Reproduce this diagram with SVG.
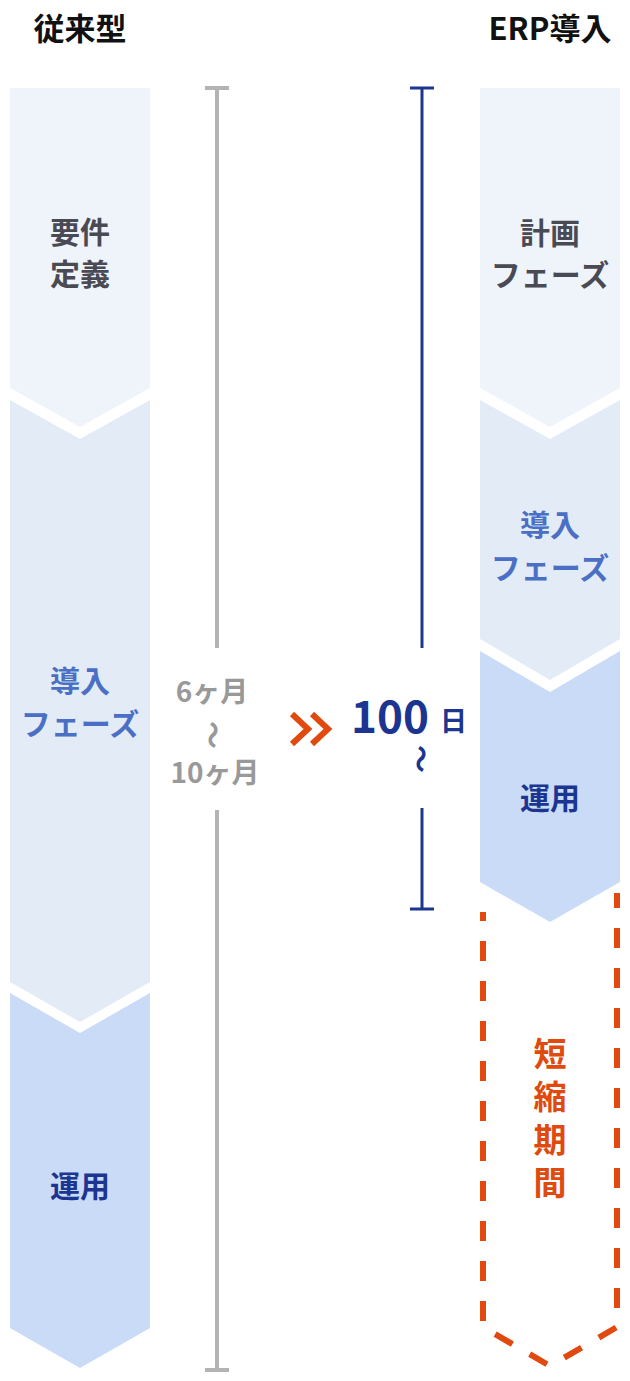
<svg xmlns="http://www.w3.org/2000/svg" width="630" height="1381" viewBox="0 0 630 1381">
<style>
text{font-family:"Noto Sans CJK JP","Noto Sans",sans-serif;font-weight:700;text-anchor:middle;dominant-baseline:central}
.h{font-size:31px;fill:#111}
.t{font-size:30px}
.gray{fill:#4a4a55}
.blue{fill:#4a6fc4}
.navy{fill:#1c3590}
.org{fill:#e04a0e;font-size:33px;letter-spacing:10px}
.p1{fill:#eff4fa}
.p2{fill:#e3ebf7}
.p3{fill:#c9dbf7}
.gl{stroke:#b3b3b3;stroke-width:4;fill:none}
.bl{stroke:#1c3590;stroke-width:3;fill:none}
.mid{font-size:28px;fill:#999}
</style>
<g id="headings">
<text class="h" x="80" y="26">従来型</text>
<text class="h" x="550" y="26">ERP導入</text>
</g>
<g id="left-req">
<polygon class="p1" points="10,88 150,88 150,388 80,427 10,388"/>
<text class="t gray" x="80" y="230">要件</text>
<text class="t gray" x="80" y="272">定義</text>
</g>
<g id="left-impl">
<polygon class="p2" points="10,400 80,439 150,400 150,982 80,1022 10,982"/>
<text class="t blue" x="80" y="679">導入</text>
<text class="t blue" x="80" y="722">フェーズ</text>
</g>
<g id="left-ops">
<polygon class="p3" points="10,993 80,1033 150,993 150,1328 80,1368 10,1328"/>
<text class="t navy" x="80" y="1184">運用</text>
</g>
<g id="right-plan">
<polygon class="p1" points="480,88 620,88 620,388 550,427 480,388"/>
<text class="t gray" x="550" y="231">計画</text>
<text class="t gray" x="550" y="273">フェーズ</text>
</g>
<g id="right-impl">
<polygon class="p2" points="480,400 550,439 620,400 620,639 550,680 480,639"/>
<text class="t blue" x="550" y="523">導入</text>
<text class="t blue" x="550" y="566">フェーズ</text>
</g>
<g id="right-ops">
<polygon class="p3" points="480,651 550,692 620,651 620,882 550,922 480,882"/>
<text class="t navy" x="550" y="796">運用</text>
</g>
<g id="right-saved">
<path d="M617,893 V1327 L550,1366 L483,1327 V912" fill="none" stroke="#e04a0e" stroke-width="6" stroke-dasharray="20 20" stroke-dashoffset="5"/>
<text class="org" x="550" y="1123" writing-mode="vertical-rl">短縮期間</text>
</g>
<g id="connectors">
<path class="gl" d="M217,88 V648 M217,810 V1370 M205,88 H229 M205,1370 H229"/>
<path class="bl" d="M422,88 V648 M422,808 V909 M410,88 H434 M410,909 H434"/>
<path d="M292,714 L308,729 L292,744 M312,714 L328,729 L312,744" fill="none" stroke="#e04a0e" stroke-width="6"/>
</g>
<g id="duration-old">
<text class="mid" x="212" y="690">6ヶ月</text>
<text class="mid" x="214" y="735" transform="rotate(90 214 735)">〜</text>
<text class="mid" x="215" y="771">10ヶ月</text>
</g>
<g id="duration-new">
<text class="navy" x="429" y="714" style="font-size:44px;text-anchor:end">100</text>
<text class="navy" x="440" y="719" style="font-size:27px;text-anchor:start">日</text>
<text class="navy" x="422" y="759" style="font-size:28px" transform="rotate(90 422 759)">〜</text>
</g>
</svg>
